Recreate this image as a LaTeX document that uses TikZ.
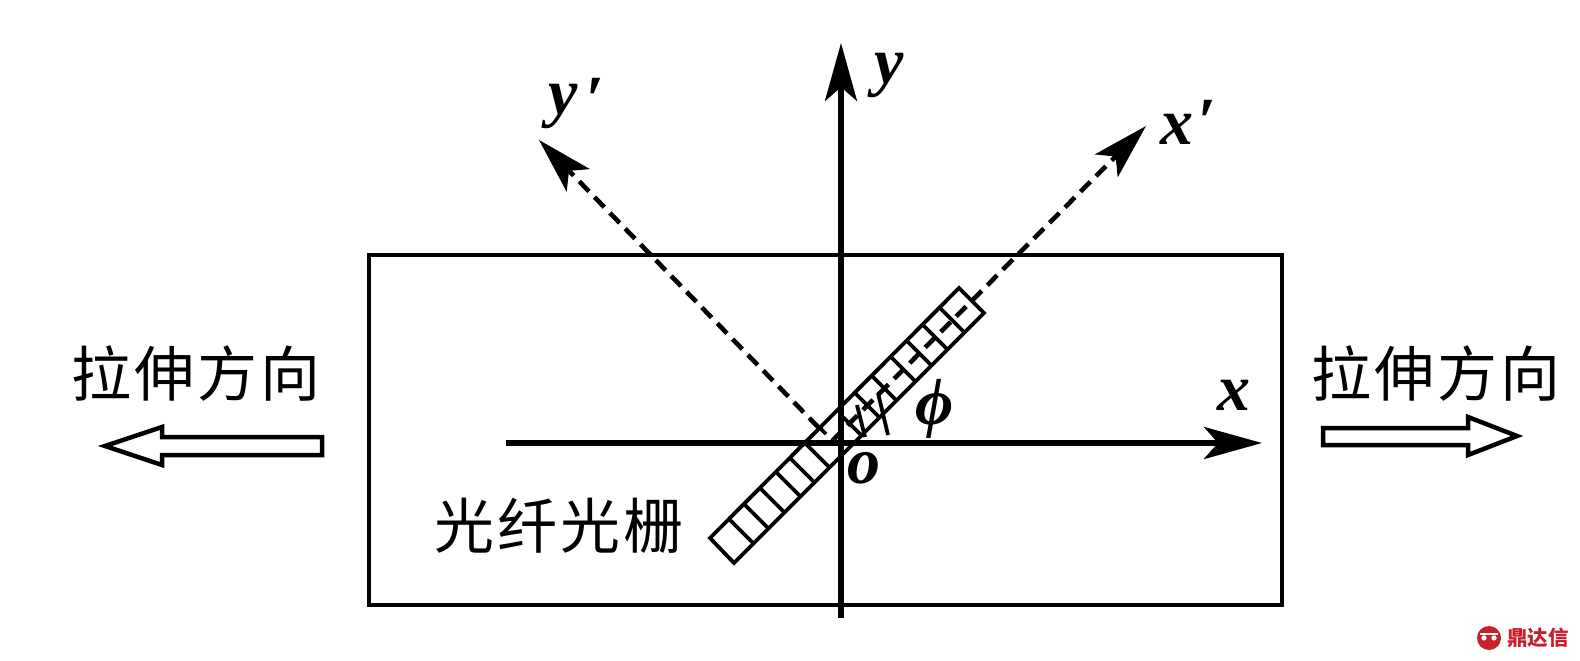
\documentclass[tikz,border=0pt]{standalone}
\usepackage{fontspec}
\setmainfont{Liberation Serif}
\newfontfamily\cjk[LetterSpace=5]{Noto Sans CJK SC}
\newfontfamily\cjklogo{Noto Sans CJK SC}
\usetikzlibrary{arrows.meta,calc}
\definecolor{logored}{HTML}{C8202C}
\tikzset{
 axisline/.style={line width=5.5pt,-{Stealth[length=58pt,width=32pt,inset=14pt]}},
 daxis/.style={line width=4.6pt,dash pattern=on 14pt off 8pt,-{Stealth[length=56pt,width=32pt,inset=13pt]}},
 frame/.style={line width=4.5pt},
 grat/.style={line width=3.8pt},
 hollow/.style={line width=4.5pt,fill=white,line join=miter},
 cn/.style={font=\cjk\fontsize{60}{60}\selectfont,inner sep=0pt},
 lab/.style={font=\bfseries\itshape\fontsize{66}{66}\selectfont,inner sep=0pt},
}
\begin{document}
\begin{tikzpicture}[x=1pt,y=-1pt]
\useasboundingbox (0,0) rectangle (1580,661);
\fill[white] (0,0) rectangle (1580,661);
\coordinate (YT) at (841,43);
\coordinate (YB) at (841,618);
\coordinate (XL) at (506,443);
\coordinate (XR) at (1262,443);
\coordinate (XO) at (832,441);
\coordinate (YO) at (819,428);
\coordinate (XP) at (1146,126);
\coordinate (YP) at (539,140);
\draw[frame] (369,255) rectangle (1282,605);
\draw[axisline] (XL) -- (XR);
\draw[axisline] (YB) -- (YT);
\draw[daxis] (XO) -- (XP);
\draw[daxis] (YO) -- (YP);
\coordinate (A) at (710,538);
\coordinate (B) at (734,563);
\coordinate (C) at (984,313);
\coordinate (D) at (959,288);
\draw[grat] (A) -- (B) -- (C) -- (D) -- cycle;
\foreach \u in {729,744,760,776,790,805,855,872,891,907,923,940}{
 \draw[grat] (\u,1248-\u) -- ++(24.5,24.5);
}
\draw[grat] (820,428) -- ++(6,6);
\draw[grat] (843,417) -- (861.5,435.5);
\coordinate (S1a) at (857,405);
\coordinate (S1b) at (865,437);
\coordinate (S2a) at (878,393);
\coordinate (S2b) at (888,435);
\draw[line width=3.8pt] (S1a) -- (S1b);
\draw[line width=3.8pt] (S2a) -- (S2b);
\node[lab] (lx) at (1234,395) {x};
\node[lab] (ly) at (889,75) {y};
\node[lab,anchor=west] (lxp) at (1160,129) {x};
\node[lab,anchor=west] (lxq) at (1197,122) {′};
\node[lab,anchor=west] (lyp) at (548,106) {y};
\node[lab,anchor=west] (lyq) at (585,100) {′};
\node[lab] (lo) at (864,468) {o};
\node[lab] (lphi) at (935,409) {ϕ};
\node[cn] (s1) at (196,374) {拉伸方向};
\node[cn] (s2) at (1436,374) {拉伸方向};
\node[cn] (s3) at (559,526) {光纤光栅};
\draw[hollow] (322,437) -- (162,437) -- (162,427) -- (105,446) -- (162,465) -- (162,455) -- (322,455) -- cycle;
\draw[hollow] (1323,428) -- (1468,428) -- (1468,417) -- (1517,436) -- (1468,455) -- (1468,445) -- (1323,445) -- cycle;
\node[font=\cjklogo\bfseries\fontsize{20.5}{20.5}\selectfont,text=logored,inner sep=0pt] (wm) at (1538,638) {鼎达信};
\fill[logored] (1489,638) circle (12);
\fill[white] (1480,633) rectangle (1498,635);
\fill[white] (1484,638) circle (2.6);
\fill[white] (1494,638) circle (2.6);
\end{tikzpicture}
\end{document}
